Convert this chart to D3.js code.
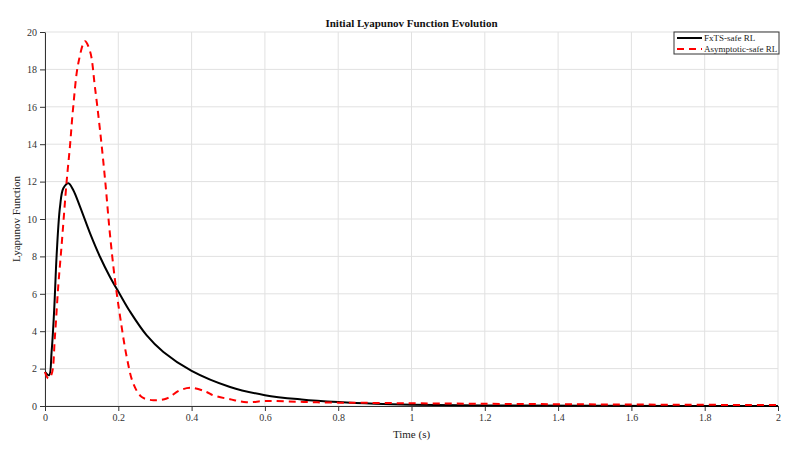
<!DOCTYPE html>
<html>
<head>
<meta charset="utf-8">
<script src="https://cdn.jsdelivr.net/npm/d3@7"></script>
<style>
  body { margin: 0; background: #fff; }
  svg { font-family: "Liberation Serif", "Times New Roman", serif; }
  .tick text { fill: #333; font-size: 10px; }
  .grid line { stroke: #e1e1e1; }
</style>
</head>
<body>
<svg></svg>
<script>
const seriesNames = ["FxTS-safe RL", "Asymptotic-safe RL"];

const fxtsTime = [0, 0.011, 0.018, 0.025, 0.032, 0.041, 0.05, 0.064, 0.077, 0.0955, 0.123,
  0.15, 0.177, 0.205, 0.232, 0.277, 0.323, 0.4, 0.505, 0.6, 0.7, 0.8, 0.9, 1.0, 1.2, 1.5, 2.0];
const fxtsValue = [1.82, 1.64, 2.9, 5.12, 8.16, 10.66, 11.64, 11.91, 11.55, 10.66, 9.23,
  7.98, 6.91, 5.95, 5.05, 3.79, 2.89, 1.88, 1.02, 0.58, 0.35, 0.21, 0.12, 0.07, 0.03, 0.01, 0.0];

const asymTime = [0, 0.009, 0.018, 0.027, 0.036, 0.045, 0.059, 0.068, 0.077, 0.091, 0.109,
  0.123, 0.136, 0.15, 0.164, 0.177, 0.191, 0.205, 0.223, 0.241, 0.264, 0.296, 0.332, 0.368,
  0.4, 0.441, 0.459, 0.505, 0.55, 0.6, 0.66, 0.73, 0.8, 0.87, 0.98, 1.18, 1.46, 1.7, 2.0];
const asymValue = [1.82, 1.47, 1.7, 3.7, 6.37, 8.52, 12.0, 13.87, 16.0, 18.34, 19.5,
  18.96, 17.09, 14.77, 12.09, 9.23, 6.73, 4.77, 2.62, 1.2, 0.48, 0.31, 0.4, 0.84,
  0.97, 0.75, 0.57, 0.36, 0.2, 0.27, 0.25, 0.2, 0.18, 0.17, 0.15, 0.12, 0.09, 0.07, 0.05];

const xTicks = [0, 0.2, 0.4, 0.6, 0.8, 1, 1.2, 1.4, 1.6, 1.8, 2];
const yTicks = [0, 2, 4, 6, 8, 10, 12, 14, 16, 18, 20];

const width = 795;
const height = 454;
const margin = { left: 45, right: 17, top: 32, bottom: 48 };
const graphWidth = width - margin.left - margin.right;
const graphHeight = height - margin.top - margin.bottom;

const svg = d3.select("svg").attr("width", width).attr("height", height);

const xScale = d3.scaleLinear().domain([0, 2]).range([0, graphWidth]);
const yScale = d3.scaleLinear().domain([0, 20]).range([graphHeight, 0]);

const g = svg.append("g").attr("transform", `translate(${margin.left}, ${margin.top})`);

// grid
g.append("g").attr("class", "grid")
  .selectAll("line.v").data(xTicks).enter().append("line")
  .attr("x1", (d) => xScale(d)).attr("x2", (d) => xScale(d))
  .attr("y1", 0).attr("y2", graphHeight);
g.append("g").attr("class", "grid")
  .selectAll("line.h").data(yTicks).enter().append("line")
  .attr("x1", 0).attr("x2", graphWidth)
  .attr("y1", (d) => yScale(d)).attr("y2", (d) => yScale(d));

const xAxis = d3.axisBottom(xScale).tickValues(xTicks).tickFormat(d3.format("")).tickSize(5).tickSizeOuter(0);
const yAxis = d3.axisLeft(yScale).tickValues(yTicks).tickFormat(d3.format("")).tickSize(5).tickSizeOuter(0);

const xAxisG = g.append("g").attr("transform", `translate(0, ${graphHeight})`).call(xAxis);
const yAxisG = g.append("g").call(yAxis);
[xAxisG, yAxisG].forEach((a) => {
  a.select(".domain").attr("stroke", "#333");
  a.selectAll(".tick line").attr("stroke", "#333");
  a.attr("font-family", null).attr("font-size", null);
});

const lineGen = d3.line()
  .x((d) => xScale(d[0]))
  .y((d) => yScale(d[1]))
  .curve(d3.curveCatmullRom.alpha(0.5));

g.append("path")
  .datum(fxtsTime.map((t, i) => [t, fxtsValue[i]]))
  .attr("fill", "none").attr("stroke", "#000").attr("stroke-width", 2)
  .attr("d", lineGen);

g.append("path")
  .datum(asymTime.map((t, i) => [t, asymValue[i]]))
  .attr("fill", "none").attr("stroke", "#ff0000").attr("stroke-width", 2)
  .attr("stroke-dasharray", "7,5")
  .attr("d", lineGen);

// labels
svg.append("text")
  .attr("x", margin.left + graphWidth / 2).attr("y", 27)
  .attr("text-anchor", "middle").attr("font-weight", "bold").attr("font-size", 11)
  .attr("fill", "#111")
  .text("Initial Lyapunov Function Evolution");

svg.append("text")
  .attr("x", margin.left + graphWidth / 2).attr("y", 438)
  .attr("text-anchor", "middle").attr("font-size", 11).attr("fill", "#222")
  .text("Time (s)");

svg.append("text")
  .attr("transform", `translate(20, ${margin.top + graphHeight / 2}) rotate(-90)`)
  .attr("text-anchor", "middle").attr("font-size", 11).attr("fill", "#222")
  .text("Lyapunov Function");

// legend
const legend = svg.append("g").attr("transform", "translate(674, 32)");
legend.append("rect").attr("width", 105).attr("height", 22)
  .attr("fill", "#fff").attr("stroke", "#333").attr("stroke-width", 1);
seriesNames.forEach((name, i) => {
  const y = 6 + i * 11;
  legend.append("line")
    .attr("x1", 3).attr("x2", 28).attr("y1", y).attr("y2", y)
    .attr("stroke", i === 0 ? "#000" : "#ff0000").attr("stroke-width", 2)
    .attr("stroke-dasharray", i === 0 ? null : "7,5");
  legend.append("text")
    .attr("x", 30).attr("y", y + 3).attr("font-size", 9).attr("fill", "#222")
    .text(name);
});
</script>
</body>
</html>
